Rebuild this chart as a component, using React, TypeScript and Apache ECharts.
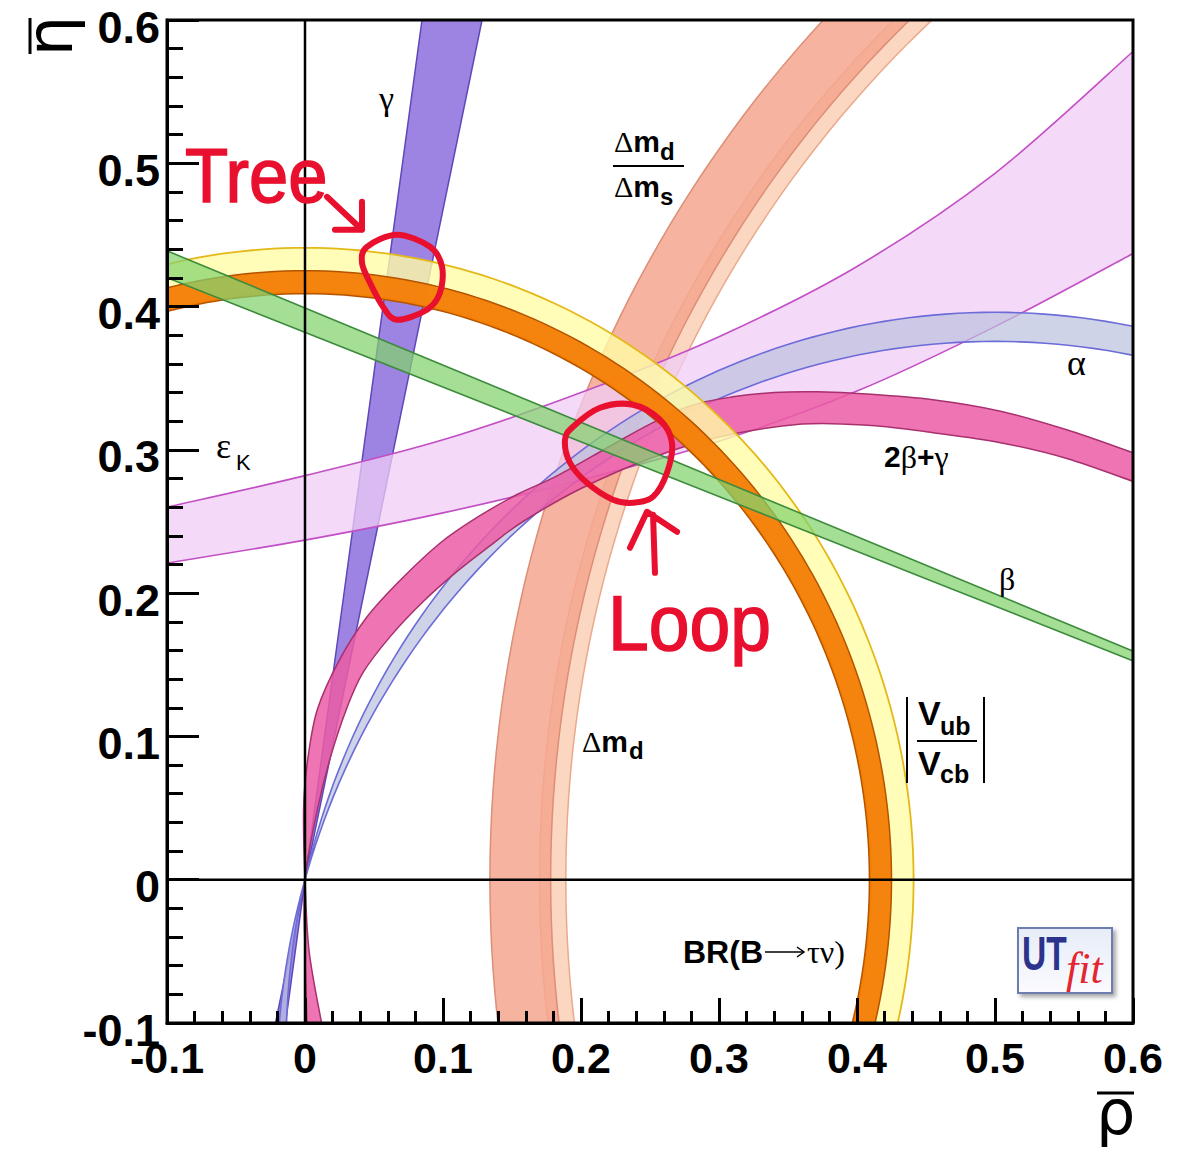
import React, { useEffect, useRef } from "react";
import * as echarts from "echarts";

// ---------- axis ----------
const axisMin = -0.1;
const axisMax = 0.6;
const axisStep = 0.1;

// ---------- reference lines ----------
const zeroLineRho = [[0, -0.1], [0, 0.6]];
const zeroLineEta = [[-0.1, 0], [0.6, 0]];

// ---------- circular bands: [centre rho, centre eta, radius] of the two edges ----------
const dmsCircles = [[1, 0, 0.811], [1, 0, 0.83]];
const dmdCircles = [[1, 0, 0.822], [1, 0, 0.866]];
const brCircles = [[0, 0, 0.41], [0, 0, 0.441]];
const vubCircles = [[0, 0, 0.409], [0, 0, 0.425]];
const alphaCircles = [[0.5, -0.1177, 0.5137], [0.5, -0.1449, 0.5206]];

// ---------- straight bands: edge end points ----------
const gammaLeftEdge = [[-0.0141, -0.1], [0.0848, 0.6]];
const gammaRightEdge = [[-0.0214, -0.1], [0.1283, 0.6]];
const betaUpperEdge = [[-0.1, 0.4389], [1, 0]];
const betaLowerEdge = [[-0.1, 0.4202], [1, 0]];

// ---------- curved bands: edge points ----------
const epsKUpper = [[-0.1, 0.26], [0, 0.282], [0.1, 0.307], [0.2, 0.34], [0.3, 0.379], [0.4, 0.428], [0.5, 0.493], [0.6, 0.578]];
const epsKLower = [[-0.1, 0.221], [0, 0.237], [0.1, 0.256], [0.2, 0.279], [0.3, 0.306], [0.4, 0.341], [0.5, 0.386], [0.6, 0.437]];

const twoBGUpper = [[0.012, -0.1], [0.003, -0.05], [0, 0], [-0.001, 0.05], [0.002, 0.084], [0.009, 0.119], [0.025, 0.1535], [0.045, 0.1835], [0.069, 0.209], [0.098, 0.235], [0.125, 0.253], [0.154, 0.269], [0.183, 0.282], [0.22, 0.302], [0.25, 0.318], [0.28, 0.331], [0.31, 0.337], [0.34, 0.34], [0.371, 0.3405], [0.407, 0.339], [0.455, 0.335], [0.504, 0.327], [0.552, 0.314], [0.6, 0.298]];
const twoBGLower = [[0.0014, -0.1], [0, -0.05], [0, 0], [0.009, 0.049], [0.018, 0.084], [0.03, 0.119], [0.042, 0.1445], [0.062, 0.17], [0.0855, 0.194], [0.11, 0.215], [0.134, 0.233], [0.158, 0.25], [0.2, 0.273], [0.25, 0.294], [0.3, 0.309], [0.36, 0.318], [0.41, 0.317], [0.455, 0.312], [0.504, 0.305], [0.552, 0.294], [0.6, 0.278]];

// ---------- hand-drawn annotations ----------
const treeLoop = [[0.0449, 0.4417], [0.0667, 0.4501], [0.0906, 0.4417], [0.0993, 0.4278], [0.0978, 0.4096], [0.0884, 0.3978], [0.0667, 0.3908], [0.0565, 0.3999], [0.0471, 0.4166], [0.0413, 0.4306]];
const treeArrowShaft = [[0.0159, 0.4766], [0.0413, 0.4536]];
const treeArrowHead = [[0.0217, 0.4536], [0.0413, 0.4536], [0.0413, 0.4731]];
const treeTextAnchor = [-0.087, 0.4724];
const loopLoop = [[0.1942, 0.3161], [0.2138, 0.3294], [0.2377, 0.3315], [0.2572, 0.321], [0.2659, 0.305], [0.2623, 0.284], [0.2522, 0.2673], [0.2377, 0.2631], [0.2232, 0.2652], [0.2043, 0.277], [0.192, 0.291], [0.1884, 0.307]];
const loopArrowShaft = [[0.2536, 0.2142], [0.2522, 0.2547]];
const loopArrowHead = [[0.2355, 0.2317], [0.2478, 0.2568], [0.2696, 0.2428]];
const loopTextAnchor = [0.2196, 0.1605];

const RED = "#e8102e";
const SANS = '"Liberation Sans", Arial, Helvetica, sans-serif';
const SERIF = '"Liberation Serif", "Times New Roman", serif';
const DEJAVU = '"DejaVu Sans", sans-serif';

type P = number[];
const f2 = (p: P) => p[0].toFixed(2) + " " + p[1].toFixed(2);

function splineD(pts: P[], cmd: string) {
  let d = cmd + f2(pts[0]);
  const n = pts.length;
  for (let i = 0; i < n - 1; i++) {
    const p0 = pts[Math.max(i - 1, 0)];
    const p1 = pts[i];
    const p2 = pts[i + 1];
    const p3 = pts[Math.min(i + 2, n - 1)];
    const c1 = [p1[0] + (p2[0] - p0[0]) / 6, p1[1] + (p2[1] - p0[1]) / 6];
    const c2 = [p2[0] - (p3[0] - p1[0]) / 6, p2[1] - (p3[1] - p1[1]) / 6];
    d += "C" + f2(c1) + " " + f2(c2) + " " + f2(p2);
  }
  return d;
}

function closedSplineD(pts: P[]) {
  const n = pts.length;
  let d = "M" + f2(pts[0]);
  for (let i = 0; i < n; i++) {
    const p0 = pts[(i - 1 + n) % n];
    const p1 = pts[i];
    const p2 = pts[(i + 1) % n];
    const p3 = pts[(i + 2) % n];
    const c1 = [p1[0] + (p2[0] - p0[0]) / 6, p1[1] + (p2[1] - p0[1]) / 6];
    const c2 = [p2[0] - (p3[0] - p1[0]) / 6, p2[1] - (p3[1] - p1[1]) / 6];
    d += "C" + f2(c1) + " " + f2(c2) + " " + f2(p2);
  }
  return d + "Z";
}

function circleD(api: any, c: P, reverse: boolean) {
  const N = 360;
  const pts: P[] = [];
  for (let i = 0; i < N; i++) {
    const t = ((reverse ? N - i : i) / N) * Math.PI * 2;
    pts.push(api.coord([c[0] + c[2] * Math.cos(t), c[1] + c[2] * Math.sin(t)]));
  }
  return "M" + pts.map(f2).join("L") + "Z";
}

function circleBand(circles: P[], fill: string, stroke: string, lw: number) {
  return {
    type: "custom",
    coordinateSystem: "cartesian2d",
    clip: true,
    silent: true,
    data: circles.map((c) => [c[0], c[1], c[2]]),
    renderItem: (params: any, api: any) => {
      if (params.dataIndex !== 0) return null;
      const d = circleD(api, circles[0], false) + circleD(api, circles[1], true);
      return { type: "path", shape: { pathData: d }, style: { fill, stroke, lineWidth: lw } };
    },
  };
}

function edgeBand(a: P[], b: P[], fill: string, stroke: string, lw: number) {
  return {
    type: "custom",
    coordinateSystem: "cartesian2d",
    clip: true,
    silent: true,
    data: a.concat(b),
    renderItem: (params: any, api: any) => {
      if (params.dataIndex !== 0) return null;
      const A = a.map((p) => api.coord(p));
      const B = b.map((p) => api.coord(p));
      const fillD = splineD(A, "M") + splineD(B.slice().reverse(), "L") + "Z";
      const strokeD = splineD(A, "M") + splineD(B, "M");
      return {
        type: "group",
        children: [
          { type: "path", shape: { pathData: fillD }, style: { fill, stroke: "none" } },
          { type: "path", shape: { pathData: strokeD }, style: { fill: "none", stroke, lineWidth: lw } },
        ],
      };
    },
  };
}

const annotationSeries = {
  type: "custom",
  coordinateSystem: "cartesian2d",
  clip: false,
  silent: true,
  z: 20,
  data: treeLoop.concat(loopLoop),
  renderItem: (params: any, api: any) => {
    if (params.dataIndex !== 0) return null;
    const c = (p: P) => api.coord(p);
    const poly = (pts: P[]) => "M" + pts.map(c).map(f2).join("L");
    const d =
      closedSplineD(treeLoop.map(c)) +
      closedSplineD(loopLoop.map(c)) +
      poly(treeArrowShaft) + poly(treeArrowHead) + poly(loopArrowShaft) + poly(loopArrowHead);
    const tt = c(treeTextAnchor);
    const lt = c(loopTextAnchor);
    const txt = (s: string, p: P, size: number, sx: number) => ({
      type: "text",
      x: p[0],
      y: p[1] - 0.3465 * size,
      scaleX: sx,
      style: {
        text: s, fill: RED, fontSize: size, fontFamily: SANS,
        stroke: RED, lineWidth: 1.5,
        align: "left", verticalAlign: "middle", textAlign: "left", textVerticalAlign: "middle",
      },
    });
    return {
      type: "group",
      children: [
        { type: "path", shape: { pathData: d }, style: { fill: "none", stroke: RED, lineWidth: 6, lineCap: "round", lineJoin: "round" } },
        txt("Tree", tt, 76, 0.93),
        txt("Loop", lt, 78, 0.94),
      ],
    };
  },
};

// ---------- static labels ----------
function label(text: string, x: number, baseline: number, size: number, family: string, weight = "normal", extra: any = {}) {
  const mid = family === SERIF ? 0.3375 : 0.3465;
  return {
    type: "text", z: 100, x, y: baseline - mid * size,
    style: {
      text, fill: "#000", fontSize: size, fontFamily: family, fontWeight: weight,
      align: "left", verticalAlign: "middle", textAlign: "left", textVerticalAlign: "middle",
      ...(extra.style || {}),
    },
    ...(extra.el || {}),
  };
}
const richDM = {
  g: { fontFamily: SERIF, fontSize: 30, fill: "#000" },
  m: { fontFamily: SANS, fontSize: 30, fontWeight: "bold", fill: "#000" },
};
function hline(x1: number, x2: number, y: number, w = 2) {
  return { type: "line", z: 100, shape: { x1, y1: y, x2, y2: y }, style: { stroke: "#000", lineWidth: w } };
}
function vline(x: number, y1: number, y2: number, w = 2) {
  return { type: "line", z: 100, shape: { x1: x, y1, x2: x, y2 }, style: { stroke: "#000", lineWidth: w } };
}

const graphics: any[] = [
  // axis titles
  { type: "text", z: 100, x: 50, y: 36, rotation: Math.PI / 2, style: { text: "η", fill: "#000", fontSize: 64, fontFamily: DEJAVU, align: "center", verticalAlign: "middle", textAlign: "center", textVerticalAlign: "middle" } },
  vline(30, 18, 54, 3),
  label("ρ", 1096, 1134, 62, DEJAVU),
  hline(1097, 1134, 1093, 3),
  // band labels
  label("γ", 379, 110, 34, SERIF),
  label("{g|Δ}{m|m}", 614, 152, 30, SANS, "normal", { style: { rich: richDM } }),
  label("d", 660, 160, 24, SANS, "bold"),
  hline(613, 684, 166),
  label("{g|Δ}{m|m}", 614, 197, 30, SANS, "normal", { style: { rich: richDM } }),
  label("s", 660, 205, 24, SANS, "bold"),
  label("ε", 216, 458, 36, SERIF),
  label("K", 236, 470, 22, SANS),
  label("α", 1067, 375, 36, SERIF),
  label("{b|2}{g|β}{b|+}{g|γ}", 884, 467, 30, SANS, "normal", {
    style: { rich: { b: { fontFamily: SANS, fontSize: 30, fontWeight: "bold", fill: "#000" }, g: { fontFamily: SERIF, fontSize: 32, fill: "#000" } } },
  }),
  label("β", 999, 590, 32, SERIF),
  label("{g|Δ}{m|m}", 582, 752, 30, SANS, "normal", { style: { rich: richDM } }),
  label("d", 629, 759, 24, SANS, "bold"),
  vline(907, 697, 783),
  vline(984, 697, 783),
  label("V", 918, 725, 34, SANS, "bold"),
  label("ub", 940, 735, 25, SANS, "bold"),
  hline(917, 977, 741),
  label("V", 918, 775, 34, SANS, "bold"),
  label("cb", 940, 783, 25, SANS, "bold"),
  label("BR(B", 683, 963, 32, SANS, "bold"),
  { type: "line", z: 100, shape: { x1: 765, y1: 952, x2: 804, y2: 952 }, style: { stroke: "#000", lineWidth: 1.5 } },
  { type: "polyline", z: 100, shape: { points: [[797, 947], [804, 952], [797, 957]] }, style: { stroke: "#000", fill: "none", lineWidth: 1.5 } },
  label("τν)", 807, 963, 32, SERIF),
  // UTfit logo
  {
    type: "rect", z: 100, shape: { x: 1018, y: 928, width: 94, height: 65 },
    style: {
      fill: { type: "linear", x: 0, y: 0, x2: 0, y2: 1, colorStops: [{ offset: 0, color: "#e6ecf7" }, { offset: 1, color: "#fbfbff" }] },
      stroke: "#6d7db0", lineWidth: 2, shadowBlur: 4, shadowOffsetX: 3, shadowOffsetY: 3, shadowColor: "rgba(0,0,0,0.35)",
    },
  },
  label("UT", 1022, 970, 48, SANS, "bold", { style: { fill: "#2b338c" }, el: { scaleX: 0.7 } }),
  label("fit", 1066, 983, 44, SERIF, "normal", { style: { fill: "#e3262f", fontStyle: "italic" } }),
];

const tickFmt = (v: number) => (Math.abs(v) < 1e-9 ? "0" : String(Math.round(v * 10) / 10));

const option: any = {
  animation: false,
  backgroundColor: "#ffffff",
  grid: {
    left: 167, top: 20, width: 966, height: 1003,
    show: true, borderColor: "#000", borderWidth: 3, backgroundColor: "transparent",
    z: 10, containLabel: false, outerBoundsMode: "none",
  },
  xAxis: {
    type: "value", min: axisMin, max: axisMax, interval: axisStep, z: 10,
    axisLine: { show: true, onZero: false, lineStyle: { color: "#000", width: 3 } },
    axisTick: { show: true, inside: true, length: 25, lineStyle: { color: "#000", width: 3 } },
    minorTick: { show: true, splitNumber: 5, length: 12, lineStyle: { color: "#000", width: 3 } },
    splitLine: { show: false }, minorSplitLine: { show: false },
    axisLabel: { show: true, margin: 13, color: "#000", fontSize: 43, fontWeight: "bold", fontFamily: SANS, formatter: tickFmt, showMinLabel: true, showMaxLabel: true, hideOverlap: false },
  },
  yAxis: {
    type: "value", min: axisMin, max: axisMax, interval: axisStep, z: 10,
    axisLine: { show: true, onZero: false, lineStyle: { color: "#000", width: 3 } },
    axisTick: { show: true, inside: true, length: 32, lineStyle: { color: "#000", width: 3 } },
    minorTick: { show: true, splitNumber: 5, length: 16, lineStyle: { color: "#000", width: 3 } },
    splitLine: { show: false }, minorSplitLine: { show: false },
    axisLabel: {
      show: true, margin: 7, color: "#000", fontSize: 45, fontWeight: "bold", fontFamily: SANS,
      formatter: (v: number) => "{a|" + tickFmt(v) + "}",
      rich: { a: { fontSize: 45, fontWeight: "bold", fontFamily: SANS, color: "#000", padding: [14, 0, 0, 0] } },
      showMinLabel: true, showMaxLabel: true, hideOverlap: false,
    },
  },
  graphic: graphics,
  series: [
    circleBand(dmsCircles, "rgba(250,208,182,0.85)", "#eaa98c", 1.5),
    circleBand(dmdCircles, "rgba(245,166,142,0.85)", "#dc8e78", 1.5),
    edgeBand(gammaLeftEdge, gammaRightEdge, "rgba(140,110,222,0.85)", "#5e48b8", 1.5),
    edgeBand(epsKUpper, epsKLower, "rgba(240,204,245,0.75)", "#c24fc4", 1.6),
    circleBand(alphaCircles, "rgba(186,192,222,0.7)", "#6c6cd8", 1.6),
    edgeBand(twoBGUpper, twoBGLower, "rgba(236,92,166,0.85)", "#a8306e", 1.5),
    circleBand(brCircles, "rgba(255,252,165,0.8)", "#e4b818", 1.8),
    circleBand(vubCircles, "rgba(244,122,0,0.92)", "#b45400", 1.5),
    edgeBand(betaUpperEdge, betaLowerEdge, "rgba(130,210,110,0.72)", "#3d8b3d", 1.6),
    { type: "line", data: zeroLineRho, symbol: "none", silent: true, z: 5, lineStyle: { color: "#000", width: 2.5 } },
    { type: "line", data: zeroLineEta, symbol: "none", silent: true, z: 5, lineStyle: { color: "#000", width: 2.5 } },
    annotationSeries,
  ],
};

export default function App() {
  const ref = useRef<HTMLDivElement>(null);
  useEffect(() => {
    const chart = echarts.init(ref.current as HTMLDivElement, null, { renderer: "svg" });
    chart.setOption(option);
    return () => chart.dispose();
  }, []);
  return <div ref={ref} style={{ position: "absolute", left: 0, top: 0, width: 1188, height: 1150, background: "#fff" }} />;
}
